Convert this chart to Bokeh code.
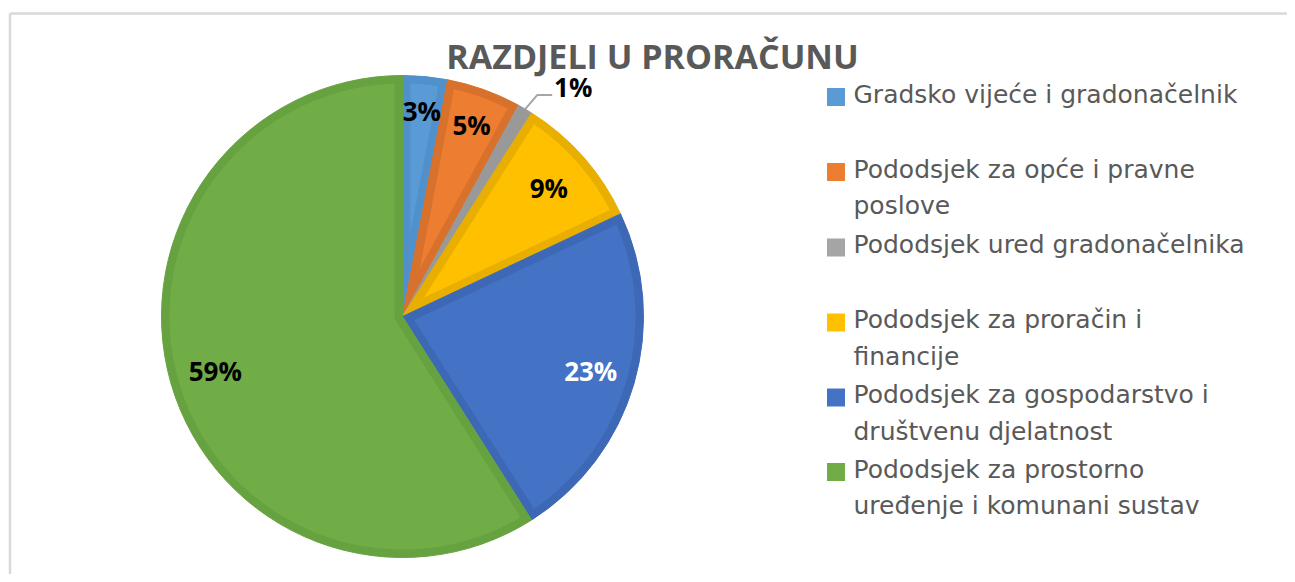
import numpy as np
from bokeh.plotting import figure
from bokeh.models import Range1d
from bokeh.embed import file_html
from bokeh.resources import INLINE
from bokeh.core.properties import value

# ---------------- data ----------------
title = "RAZDJELI U PRORAČUNU"
categories = [
    "Gradsko vijeće i gradonačelnik",
    "Pododsjek za opće i pravne poslove",
    "Pododsjek ured gradonačelnika",
    "Pododsjek za proračin i financije",
    "Pododsjek za gospodarstvo i društvenu djelatnost",
    "Pododsjek za prostorno uređenje i komunani sustav",
]
shares = [3, 5, 1, 9, 23, 59]

# ---------------- style / layout ----------------
fill_colors = ["#5B9BD5", "#ED7D31", "#A5A5A5", "#FFC000", "#4472C4", "#70AD47"]
edge_colors = ["#5090CB", "#D8712B", "#999999", "#E8AE00", "#3D68B6", "#67A240"]
label_colors = ["black", "black", "black", "black", "white", "black"]
label_radius = [206, 204, None, 195, 196, 195]
wrap_words = [None, 5, None, 4, 4, 3]
legend_y = [96.5, 171.5, 247, 322, 397, 471.5]
LINE_H = 36.5

W, H = 1287, 574
def sy(y):  # screen y -> data y
    return H - y

CX, CY, R, D = 402, sy(316), 241, 8
FONT = value("Open Sans")

p = figure(width=W, height=H, x_range=Range1d(0, W), y_range=Range1d(0, H),
           output_backend="svg", toolbar_location=None, min_border=0,
           x_axis_location=None, y_axis_location=None)
p.grid.visible = False
p.outline_line_color = None
p.background_fill_color = "white"
p.border_fill_color = "white"

# chart border (top and left visible)
p.segment(x0=[9.5, 9.5], y0=[sy(13), sy(13)], x1=[9.5, W + 5], y1=[-5, sy(13)],
          line_color="#D9D9D9", line_width=2.5)

total = float(sum(shares))
cum = np.concatenate([[0.0], np.cumsum(shares)]) / total * 2 * np.pi
ts = np.pi / 2 - cum[:-1]
te = np.pi / 2 - cum[1:]

# outer wedges (edge colour)
p.wedge(x=CX, y=CY, radius=R, start_angle=te, end_angle=ts,
        fill_color=edge_colors, line_color=edge_colors, line_width=1)


def inset(a_s, a_e):
    rr = R - D
    t = np.sqrt(rr ** 2 - D ** 2)
    delta = np.arctan(D / t)
    a1, a2 = a_s - delta, a_e + delta
    if a1 <= a2:
        return None
    half = (a_s - a_e) / 2
    bis = (a_s + a_e) / 2
    arc = np.linspace(a1, a2, 300)
    xs = list(CX + rr * np.cos(arc))
    ys = list(CY + rr * np.sin(arc))
    if half < np.pi / 2:
        dist = D / np.sin(half)
        if dist * np.cos(half) >= t:
            return None
        xs.append(CX + dist * np.cos(bis))
        ys.append(CY + dist * np.sin(bis))
    else:
        small = np.linspace(a_e + np.pi / 2, a_s - np.pi / 2, 60)
        xs += list(CX + D * np.cos(small))
        ys += list(CY + D * np.sin(small))
    return xs, ys


px, py, pc = [], [], []
for i in range(len(shares)):
    res = inset(ts[i], te[i])
    if res is not None:
        px.append(res[0]); py.append(res[1]); pc.append(fill_colors[i])
p.patches(px, py, fill_color=pc, line_color=None)

# data labels
mid = (ts + te) / 2
lx, ly, lt, lc = [], [], [], []
for i, s in enumerate(shares):
    if label_radius[i] is None:
        continue
    lx.append(CX + label_radius[i] * np.cos(mid[i]))
    ly.append(CY + label_radius[i] * np.sin(mid[i]))
    lt.append(f"{s}%")
    lc.append(label_colors[i])
p.text(x=lx, y=ly, text=lt, text_color=lc, text_font=FONT, text_font_style="bold",
       text_font_size="26px", text_align="center", text_baseline="middle")

# outside label with leader line (small slice)
for i, s in enumerate(shares):
    if label_radius[i] is not None:
        continue
    x0 = CX + R * np.cos(mid[i]); y0 = CY + R * np.sin(mid[i])
    p.line(x=[x0, x0 + 12, x0 + 27], y=[y0, y0 + 14, y0 + 14],
           line_color="#A6A6A6", line_width=2)
    p.text(x=[x0 + 48], y=[y0 + 22], text=[f"{s}%"], text_color="black",
           text_font=FONT, text_font_style="bold", text_font_size="26px",
           text_align="center", text_baseline="middle")

# title
p.text(x=[652], y=[sy(55)], text=[title], text_color="#595959", text_font=FONT,
       text_font_style="bold", text_font_size="34px", text_align="center",
       text_baseline="middle")

# legend
sq_x, sq_y = [], []
tx, ty, tt = [], [], []
for i, cat in enumerate(categories):
    words = cat.split(" ")
    if wrap_words[i] is None:
        lines = [cat]
    else:
        lines = [" ".join(words[:wrap_words[i]]), " ".join(words[wrap_words[i]:])]
    sq_x.append(835.5); sq_y.append(sy(legend_y[i]))
    for j, ln in enumerate(lines):
        tx.append(853); ty.append(sy(legend_y[i] - 3 + j * LINE_H)); tt.append(ln)
p.scatter(x=sq_x, y=sq_y, marker="square", size=18, fill_color=fill_colors,
          line_color=None)
p.text(x=tx, y=ty, text=tt, text_color="#595959", text_font=value("DejaVu Sans"),
       text_font_size="25px", text_align="left", text_baseline="middle")

open("out.html", "w").write(file_html(p, INLINE))
